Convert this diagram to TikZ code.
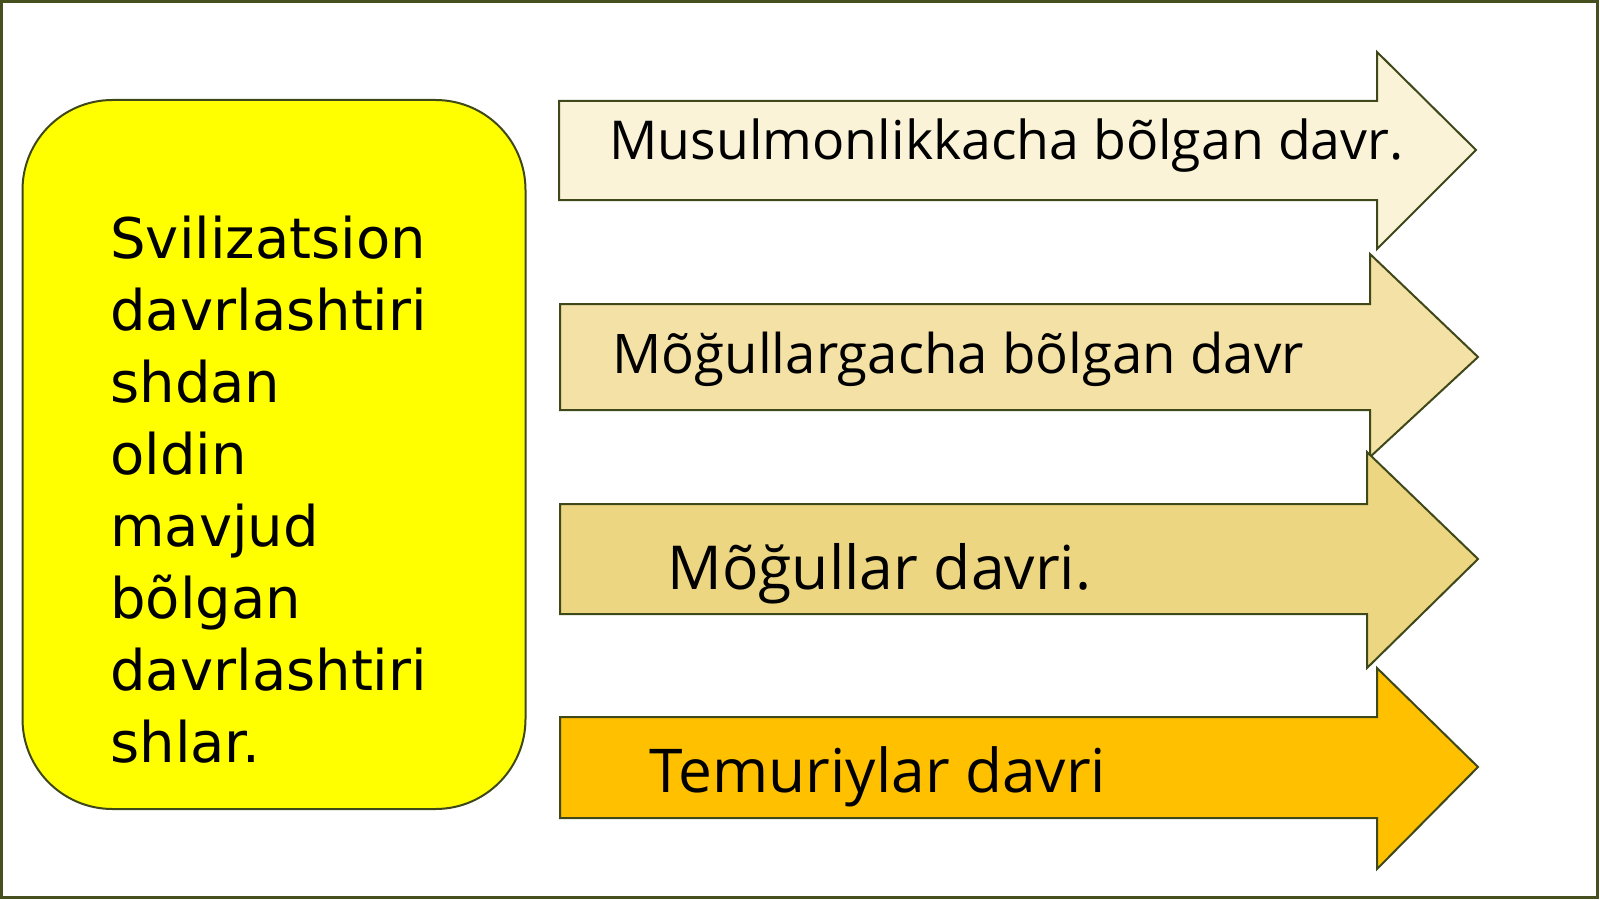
\documentclass[tikz,border=0pt]{standalone}
\usepackage{fontspec}
\setmainfont{Open Sans}
\newfontfamily\boxfont{DejaVu Sans}
\definecolor{olivedark}{RGB}{62,72,24}
\definecolor{framecol}{RGB}{70,80,30}
\definecolor{arrowA}{RGB}{251,243,216}
\definecolor{arrowB}{RGB}{244,225,165}
\definecolor{arrowC}{RGB}{237,214,130}
\definecolor{arrowD}{RGB}{255,192,0}
\definecolor{boxyellow}{RGB}{255,255,0}
\begin{document}
\begin{tikzpicture}[x=0.5pt,y=-0.5pt,
  outl/.style={draw=olivedark, line width=1pt, line join=miter},
  arrowtext/.style={anchor=base west, inner sep=0pt, text=black},
  boxtext/.style={anchor=north west, inner sep=0pt, align=left, text=black,
    font=\boxfont\fontsize{28}{36}\selectfont}]
\useasboundingbox (0,0) rectangle (1600,899);
\fill[white] (0,0) rectangle (1600,899);
\draw[draw=framecol, line width=1.5pt] (1.5,1.5) rectangle (1597.5,897.5);
% left box
\draw[outl, fill=boxyellow, rounded corners=45pt] (22.5,100) rectangle (525.5,809);
\node[boxtext] (lefttext) at (110,216) {Svilizatsion\\davrlashtiri\\shdan\\oldin\\mavjud\\bõlgan\\davrlashtiri\\shlar.};
% arrow 1
\draw[outl, fill=arrowA] (559,101) -- (1377,101) -- (1377,52) -- (1476,150) -- (1377,249) -- (1377,200) -- (559,200) -- cycle;
\node[arrowtext, font=\fontsize{26.8}{33}\selectfont] (t1) at (609,160) {Musulmonlikkacha bõlgan davr.};
% arrow 2
\draw[outl, fill=arrowB] (560,304) -- (1370,304) -- (1370,254) -- (1478,357) -- (1370,457) -- (1370,410) -- (560,410) -- cycle;
\node[arrowtext, font=\fontsize{27.3}{33}\selectfont] (t2) at (612,373) {Mõğullargacha bõlgan davr};
% arrow 3
\draw[outl, fill=arrowC] (560,504) -- (1367,504) -- (1367,452) -- (1478,559) -- (1367,668) -- (1367,614) -- (560,614) -- cycle;
\node[arrowtext, font=\fontsize{30.3}{36}\selectfont] (t3) at (667,589) {Mõğullar davri.};
% arrow 4
\draw[outl, fill=arrowD] (560,717) -- (1377,717) -- (1377,668) -- (1478,767) -- (1377,869) -- (1377,818) -- (560,818) -- cycle;
\node[arrowtext, font=\fontsize{30.2}{36}\selectfont] (t4) at (649,792) {Temuriylar davri};
\end{tikzpicture}
\end{document}
